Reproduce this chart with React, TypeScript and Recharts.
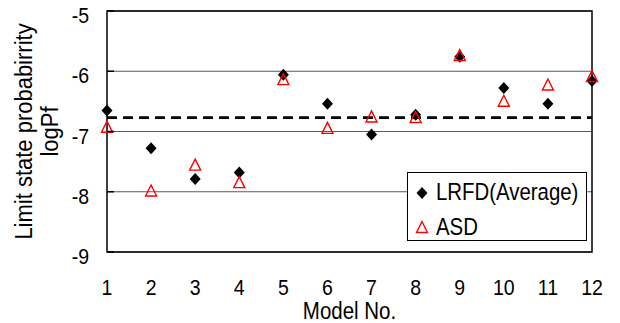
import React from "react"
import {
  ScatterChart,
  Scatter,
  XAxis,
  YAxis,
  CartesianGrid,
  ReferenceLine,
  ReferenceArea,
  Legend,
} from "recharts"

const models = [1, 2, 3, 4, 5, 6, 7, 8, 9, 10, 11, 12]
const lrfd = [-6.65, -7.28, -7.79, -7.68, -6.06, -6.54, -7.05, -6.72, -5.76, -6.28, -6.54, -6.16]
const asd = [-6.92, -7.98, -7.55, -7.84, -6.13, -6.94, -6.75, -6.76, -5.73, -6.49, -6.22, -6.08]
const yTicks = [-5, -6, -7, -8, -9]
const targetLine = -6.77

const lrfdData = models.map((m, i) => ({ x: m, y: lrfd[i] }))
const asdData = models.map((m, i) => ({ x: m, y: asd[i] }))

const FONT = "'Liberation Sans', Arial, sans-serif"
const STRETCH = 1.15

function Diamond(props: any) {
  const { cx, cy } = props
  return (
    <path
      d={`M${cx},${cy - 6} L${cx + 5.5},${cy} L${cx},${cy + 6} L${cx - 5.5},${cy} Z`}
      fill="#000"
    />
  )
}

function Triangle(props: any) {
  const { cx, cy } = props
  return (
    <path
      d={`M${cx},${cy - 5.5} L${cx + 5.5},${cy + 5.5} L${cx - 5.5},${cy + 5.5} Z`}
      fill="none"
      stroke="#ff0000"
      strokeWidth={1.4}
    />
  )
}

function YTick(props: any) {
  const { x, y, payload } = props
  return (
    <g>
      <line x1={x} x2={x + 7} y1={y} y2={y} stroke="#000" strokeWidth={1.5} />
      <text
        transform={`translate(${x - 18},${y + 12}) scale(1,${STRETCH})`}
        textAnchor="end"
        fontSize={19.5}
        fontFamily={FONT}
        fill="#000"
      >
        {payload.value}
      </text>
    </g>
  )
}

function XTick(props: any) {
  const { x, y, payload } = props
  return (
    <text
      transform={`translate(${x},${y + 15}) scale(1,${STRETCH})`}
      textAnchor="middle"
      fontSize={19.5}
      fontFamily={FONT}
      fill="#000"
    >
      {payload.value}
    </text>
  )
}

function YLabel(props: any) {
  const { viewBox } = props
  const cy = viewBox.y + viewBox.height / 2
  return (
    <g fontFamily={FONT} fontSize={22} fill="#000">
      <text textAnchor="middle" transform={`translate(32,${cy}) rotate(-90) scale(1,1.1)`}>
        Limit state probabirrity
      </text>
      <text textAnchor="middle" transform={`translate(58,${cy}) rotate(-90) scale(1,1.1)`}>
        logPf
      </text>
    </g>
  )
}

function XLabel(props: any) {
  const { viewBox } = props
  return (
    <text
      transform={`translate(${viewBox.x + viewBox.width / 2},${viewBox.y + 66.5}) scale(1,1.15)`}
      textAnchor="middle"
      fontSize={20.5}
      fontFamily={FONT}
      fill="#000"
    >
      Model No.
    </text>
  )
}

function LegendBox() {
  return (
    <div
      style={{
        width: 180,
        height: 69,
        border: "1px solid #000",
        background: "#fff",
        boxSizing: "border-box",
      }}
    >
      <svg width={178} height={67} style={{ display: "block" }}>
        <Diamond cx={14} cy={20} />
        <text transform="translate(28,27) scale(1,1.18)" fontSize={20.4} fontFamily={FONT} fill="#000">
          LRFD(Average)
        </text>
        <Triangle cx={14} cy={54} />
        <text transform="translate(28,62) scale(1,1.18)" fontSize={20.4} fontFamily={FONT} fill="#000">
          ASD
        </text>
      </svg>
    </div>
  )
}

export default function App() {
  return (
    <div style={{ position: "absolute", left: 0, top: 0, background: "#fff" }}>
      <ScatterChart width={620} height={323} margin={{ top: 11, right: 28, left: 0, bottom: 21 }}>
        <CartesianGrid horizontal vertical={false} stroke="#5a5a5a" strokeWidth={1.2} />
        <ReferenceArea x1={1} x2={12} y1={-9} y2={-5} fill="none" stroke="#000" strokeWidth={1.5} />
        <XAxis
          type="number"
          dataKey="x"
          domain={[1, 12]}
          ticks={models}
          interval={0}
          axisLine={false}
          tickLine={false}
          tickSize={0}
          tickMargin={28}
          height={50}
          tick={<XTick />}
          label={<XLabel />}
        />
        <YAxis
          type="number"
          dataKey="y"
          domain={[-9, -5]}
          ticks={yTicks}
          interval={0}
          axisLine={false}
          tickLine={false}
          tickSize={0}
          tickMargin={0}
          width={107}
          tick={<YTick />}
          label={<YLabel />}
        />
        <ReferenceLine y={targetLine} stroke="#000" strokeWidth={2.6} strokeDasharray="10 6" />
        <Legend
          layout="vertical"
          align="center"
          verticalAlign="middle"
          wrapperStyle={{ position: "absolute", left: 407, top: 172, width: 180 }}
          content={() => <LegendBox />}
        />
        <Scatter name="LRFD(Average)" data={lrfdData} shape={<Diamond />} isAnimationActive={false} />
        <Scatter name="ASD" data={asdData} shape={<Triangle />} isAnimationActive={false} />
      </ScatterChart>
    </div>
  )
}
